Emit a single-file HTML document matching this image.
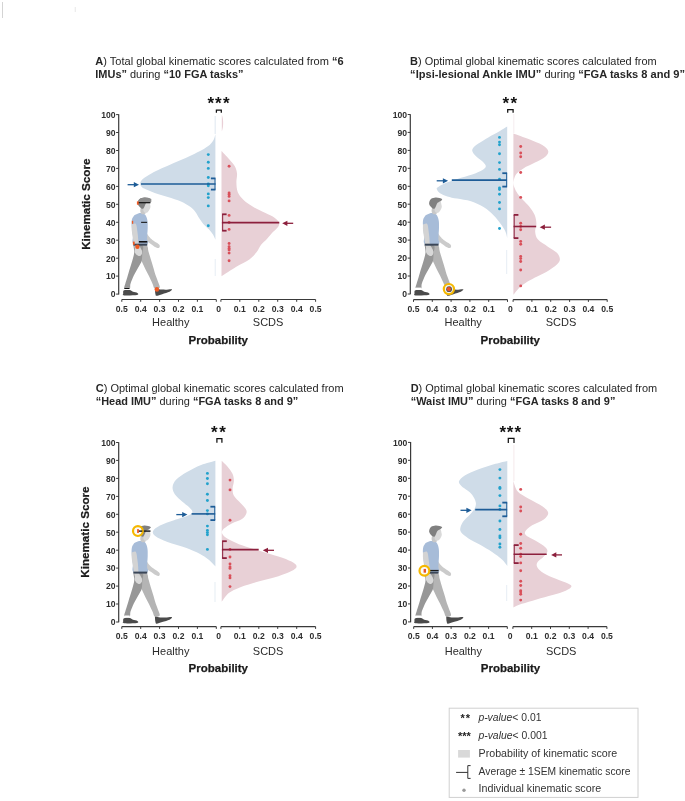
<!DOCTYPE html>
<html><head><meta charset="utf-8"><title>Kinematic scores</title><style>
html,body{margin:0;padding:0;background:#fff;}
body{width:685px;height:801px;overflow:hidden;}
svg{display:block;filter:blur(0.4px);}
text{font-family:"Liberation Sans",sans-serif;}
.tt{font-size:10.9px;fill:#262626;}
.yl{font-size:8.6px;font-weight:bold;fill:#2e2e2e;text-anchor:end;}
.xl{font-size:8.6px;font-weight:bold;fill:#2e2e2e;text-anchor:middle;}
.gl{font-size:11px;fill:#2b2b2b;}
.pl{font-size:11.5px;font-weight:bold;fill:#1a1a1a;stroke:#1a1a1a;stroke-width:0.25px;text-anchor:middle;}
.kl{font-size:11.65px;font-weight:bold;fill:#1a1a1a;stroke:#1a1a1a;stroke-width:0.25px;text-anchor:middle;}
.st{font-size:17px;font-weight:bold;fill:#111;text-anchor:middle;}
.lg{font-size:10.2px;fill:#333;}
.ls{font-size:11px;font-weight:bold;fill:#222;}
</style></head><body>
<svg width="685" height="801" viewBox="0 0 685 801">
<text x="95.3" y="64.6" class="tt" textLength="248.4" lengthAdjust="spacingAndGlyphs"><tspan font-weight="bold">A</tspan>) Total global kinematic scores calculated from <tspan font-weight="bold">“6</tspan></text>
<text x="95.3" y="77.6" class="tt" textLength="148.2" lengthAdjust="spacingAndGlyphs"><tspan font-weight="bold">IMUs”</tspan> during <tspan font-weight="bold">“10 FGA tasks”</tspan></text>
<text x="410.1" y="64.6" class="tt" textLength="246.5" lengthAdjust="spacingAndGlyphs"><tspan font-weight="bold">B</tspan>) Optimal global kinematic scores calculated from</text>
<text x="410.1" y="77.6" class="tt" textLength="274.9" lengthAdjust="spacingAndGlyphs"><tspan font-weight="bold">“Ipsi-lesional Ankle IMU”</tspan> during <tspan font-weight="bold">“FGA tasks 8 and 9”</tspan></text>
<text x="95.7" y="392.0" class="tt" textLength="247.9" lengthAdjust="spacingAndGlyphs"><tspan font-weight="bold">C</tspan>) Optimal global kinematic scores calculated from</text>
<text x="95.7" y="405.0" class="tt" textLength="202.6" lengthAdjust="spacingAndGlyphs"><tspan font-weight="bold">“Head IMU”</tspan> during <tspan font-weight="bold">“FGA tasks 8 and 9”</tspan></text>
<text x="410.7" y="392.0" class="tt" textLength="246.5" lengthAdjust="spacingAndGlyphs"><tspan font-weight="bold">D</tspan>) Optimal global kinematic scores calculated from</text>
<text x="410.7" y="405.0" class="tt" textLength="204.7" lengthAdjust="spacingAndGlyphs"><tspan font-weight="bold">“Waist IMU”</tspan> during <tspan font-weight="bold">“FGA tasks 8 and 9”</tspan></text>
<path d="M215.4,134.3 C215.1,135.2 214.7,137.8 213.8,139.5 C212.9,141.2 211.9,142.9 209.9,144.7 C207.9,146.4 205.1,148.2 202.0,150.0 C198.9,151.8 195.2,153.4 191.5,155.2 C187.8,156.9 183.6,158.8 179.7,160.5 C175.8,162.2 171.8,163.9 167.8,165.7 C163.9,167.4 159.5,169.2 156.0,171.0 C152.5,172.8 149.2,174.7 146.8,176.2 C144.4,177.7 142.7,179.0 141.6,180.2 C140.5,181.4 140.3,182.6 140.2,183.6 C140.1,184.6 140.5,185.4 141.2,186.2 C141.9,187.0 141.9,187.5 144.2,188.6 C146.4,189.7 150.8,191.6 154.7,193.0 C158.6,194.4 163.4,195.5 167.8,196.9 C172.2,198.3 177.3,199.8 181.0,201.5 C184.7,203.2 187.8,205.1 190.2,206.8 C192.6,208.6 193.9,210.0 195.4,212.0 C196.9,214.0 198.1,216.6 199.4,218.6 C200.7,220.6 201.8,222.2 203.3,223.9 C204.8,225.7 207.0,227.3 208.6,229.1 C210.2,230.9 211.9,232.7 213.0,234.5 C214.1,236.3 215.0,238.9 215.4,239.8 L215.4,239.8 L215.4,134.3 Z" fill="#cfdce8"/>
<path d="M221.5,151.0 C222.8,152.3 226.8,156.4 229.0,159.0 C231.2,161.6 233.5,163.9 234.8,166.3 C236.1,168.7 236.7,170.9 237.0,173.6 C237.3,176.3 236.3,179.2 236.4,182.3 C236.5,185.4 236.6,189.3 237.8,192.2 C239.0,195.1 240.9,197.4 243.6,199.9 C246.3,202.4 250.2,205.0 253.8,207.2 C257.4,209.4 262.1,211.3 265.5,213.0 C268.9,214.7 271.9,215.8 274.2,217.4 C276.4,219.0 278.4,220.8 279.0,222.5 C279.6,224.2 278.8,225.8 277.6,227.6 C276.4,229.3 273.8,231.1 272.0,233.0 C270.2,234.9 268.7,237.0 266.9,239.0 C265.1,241.0 262.8,242.6 261.1,244.8 C259.4,247.0 258.6,249.7 256.7,252.1 C254.8,254.5 252.8,257.0 249.4,259.4 C246.0,261.8 241.0,263.9 236.3,266.7 C231.7,269.5 224.0,274.6 221.5,276.2 L221.5,276.2 L221.5,151.0 Z" fill="#e8d0d6"/>
<path d="M507.2,126.6 C505.9,127.4 502.6,129.4 499.5,131.2 C496.4,133.0 491.8,135.3 488.3,137.4 C484.8,139.5 481.0,141.8 478.4,143.6 C475.8,145.4 473.7,147.1 472.8,148.5 C471.9,149.9 472.1,150.9 472.8,152.3 C473.5,153.8 475.4,155.5 477.1,157.2 C478.9,158.8 481.9,160.6 483.3,162.2 C484.8,163.8 486.0,165.2 485.8,166.5 C485.6,167.8 484.4,168.8 482.1,170.2 C479.8,171.5 476.3,173.1 472.2,174.6 C468.1,176.1 461.9,177.4 457.3,178.9 C452.8,180.4 448.2,181.9 444.9,183.3 C441.6,184.8 438.7,186.5 437.4,187.6 C436.1,188.7 436.8,189.1 437.2,190.0 C437.6,190.9 438.3,192.1 440.0,193.2 C441.7,194.3 444.6,195.5 447.4,196.4 C450.2,197.3 453.1,197.8 457.0,198.6 C460.9,199.4 466.5,199.9 471.0,201.3 C475.5,202.8 480.1,205.0 483.9,207.3 C487.6,209.6 490.6,212.4 493.5,215.3 C496.4,218.2 499.5,222.2 501.5,225.0 C503.5,227.8 504.7,229.8 505.6,232.0 C506.6,234.2 506.9,237.0 507.2,238.0 L507.2,238.0 L507.2,126.6 Z" fill="#cfdce8"/>
<path d="M513.4,133.4 C516.0,134.4 524.4,137.3 529.2,139.2 C534.0,141.1 539.1,143.1 542.3,145.0 C545.5,146.9 547.7,149.0 548.2,150.9 C548.7,152.8 547.5,154.8 545.3,156.7 C543.1,158.6 538.6,160.6 535.0,162.6 C531.4,164.6 526.5,166.5 523.4,168.4 C520.2,170.3 517.7,172.0 516.1,174.2 C514.5,176.4 513.9,179.4 513.6,181.5 C513.3,183.6 513.6,185.0 514.2,187.0 C514.9,189.0 516.0,191.3 517.5,193.5 C519.0,195.7 521.0,197.8 523.0,200.0 C525.0,202.2 527.3,204.0 529.2,206.5 C531.1,209.0 533.4,212.0 534.6,214.8 C535.8,217.7 536.3,220.7 536.4,223.6 C536.5,226.5 534.9,229.3 535.2,232.0 C535.5,234.7 535.8,237.1 538.0,239.6 C540.2,242.1 545.1,244.7 548.2,246.9 C551.4,249.1 555.0,250.7 556.9,252.8 C558.8,254.9 559.9,257.4 559.9,259.3 C559.9,261.2 559.1,262.4 556.9,264.5 C554.7,266.6 550.4,269.6 546.7,271.8 C543.1,274.0 538.5,275.7 535.0,277.6 C531.5,279.5 528.2,281.2 525.5,283.0 C522.8,284.8 520.6,286.5 518.6,288.5 C516.6,290.5 514.3,293.8 513.4,294.8 L513.4,294.8 L513.4,133.4 Z" fill="#e8d0d6"/>
<path d="M215.4,460.7 C213.0,461.4 205.9,463.1 201.1,465.0 C196.3,466.9 190.6,469.9 186.5,472.3 C182.4,474.7 178.6,477.2 176.3,479.6 C174.0,482.0 172.8,484.5 172.6,486.9 C172.3,489.3 173.2,491.8 174.8,494.2 C176.4,496.6 179.7,499.3 182.1,501.5 C184.5,503.7 187.7,505.7 189.4,507.4 C191.1,509.1 192.5,510.5 192.4,511.8 C192.3,513.1 191.9,513.9 188.8,515.3 C185.7,516.7 178.8,518.6 174.0,520.3 C169.2,522.0 163.5,523.8 160.0,525.6 C156.5,527.4 153.7,529.4 153.0,531.2 C152.3,533.0 153.2,534.5 155.6,536.3 C158.0,538.1 162.3,540.1 167.5,542.1 C172.7,544.1 181.2,546.0 186.5,548.0 C191.8,550.0 195.9,551.9 199.6,553.8 C203.2,555.7 205.8,557.5 208.4,559.6 C211.0,561.7 214.2,565.3 215.4,566.4 L215.4,566.4 L215.4,460.7 Z" fill="#cfdce8"/>
<path d="M221.7,460.7 C222.6,461.7 225.6,464.3 227.4,466.5 C229.2,468.7 231.4,471.4 232.5,473.8 C233.6,476.2 233.9,478.7 233.9,481.1 C233.9,483.5 232.6,486.0 232.6,488.4 C232.6,490.8 232.6,493.3 233.9,495.7 C235.2,498.1 238.6,500.8 240.5,503.0 C242.4,505.2 244.6,507.1 245.6,508.8 C246.6,510.5 247.0,511.5 246.4,513.2 C245.8,514.9 244.4,517.3 242.0,519.0 C239.6,520.7 234.8,521.8 231.8,523.4 C228.8,525.0 225.7,527.0 224.0,528.6 C222.3,530.2 221.7,531.4 221.9,532.8 C222.1,534.2 223.3,535.6 225.0,537.0 C226.7,538.4 229.2,539.6 232.0,541.0 C234.8,542.4 237.4,543.7 242.0,545.3 C246.6,546.9 253.3,548.8 259.4,550.7 C265.5,552.6 273.0,554.7 278.4,556.5 C283.8,558.3 288.5,560.0 291.5,561.6 C294.5,563.2 296.6,564.8 296.6,566.4 C296.6,568.0 294.5,569.5 291.5,571.1 C288.5,572.7 283.8,574.5 278.4,576.2 C273.0,577.9 265.7,579.5 259.4,581.3 C253.1,583.1 245.5,585.2 240.4,587.2 C235.3,589.2 231.9,590.6 228.8,593.0 C225.7,595.4 222.9,600.3 221.7,601.8 L221.7,601.8 L221.7,460.7 Z" fill="#e8d0d6"/>
<path d="M507.3,460.9 C505.3,461.4 500.4,462.4 495.5,463.8 C490.6,465.2 483.1,467.7 478.0,469.6 C472.9,471.6 468.0,473.6 464.8,475.5 C461.6,477.4 459.6,479.6 459.0,481.3 C458.4,483.1 460.0,484.5 461.4,486.0 C462.8,487.5 465.7,489.0 467.5,490.5 C469.3,492.0 470.9,493.0 472.3,495.0 C473.7,497.0 475.4,500.1 475.8,502.4 C476.2,504.7 475.7,506.5 474.7,508.6 C473.7,510.7 471.6,512.7 469.8,514.8 C468.0,516.9 465.2,518.9 463.6,521.0 C462.1,523.1 460.9,525.3 460.5,527.2 C460.1,529.1 459.8,530.3 461.1,532.2 C462.4,534.1 465.4,536.3 468.5,538.4 C471.6,540.5 475.8,542.3 479.7,544.6 C483.6,546.9 488.4,549.5 492.1,552.0 C495.8,554.5 499.5,557.2 502.0,559.5 C504.5,561.8 506.4,564.9 507.3,566.0 L507.3,566.0 L507.3,460.9 Z" fill="#cfdce8"/>
<path d="M513.4,481.0 C514.1,482.7 514.9,488.2 517.5,491.2 C520.1,494.2 525.1,496.5 529.2,499.0 C533.3,501.5 539.1,504.0 542.3,506.3 C545.5,508.6 548.0,510.6 548.2,512.8 C548.5,515.0 546.5,517.3 543.8,519.4 C541.1,521.5 535.1,523.3 532.1,525.3 C529.1,527.2 526.5,529.4 525.5,531.1 C524.5,532.8 524.5,533.8 526.3,535.5 C528.1,537.2 533.3,539.3 536.5,541.3 C539.7,543.2 543.5,545.5 545.3,547.2 C547.1,548.9 547.6,549.9 547.4,551.5 C547.1,553.1 545.4,554.9 543.8,556.6 C542.2,558.4 538.7,560.4 537.6,562.0 C536.5,563.6 536.4,564.9 537.0,566.5 C537.6,568.1 538.9,569.9 541.5,571.7 C544.1,573.5 548.6,575.7 552.6,577.5 C556.6,579.3 562.6,581.1 565.7,582.6 C568.9,584.1 571.5,584.9 571.5,586.3 C571.5,587.6 568.9,589.2 565.7,590.7 C562.6,592.2 557.5,593.5 552.6,595.0 C547.7,596.5 541.6,597.9 536.5,599.4 C531.4,600.9 525.8,602.5 521.9,603.8 C518.0,605.1 514.8,606.8 513.4,607.4 L513.4,607.4 L513.4,481.0 Z" fill="#e8d0d6"/>
<path d="M221.8,114.8 C223.6,119 223.6,127 221.8,131.5 Z" fill="#e9cfd6"/>
<rect x="214.6" y="116" width="1.2" height="18" fill="#e4ecf3"/>
<rect x="214.7" y="259" width="1.0" height="17" fill="#e6edf4"/>
<rect x="513.4" y="445" width="1.0" height="36" fill="#f5e9ec"/>
<rect x="513.4" y="114" width="0.9" height="19" fill="#f4eaed"/>
<rect x="214.5" y="582" width="1.0" height="20" fill="#e6edf4"/>
<rect x="506.2" y="585" width="1.0" height="16" fill="#e6edf4"/>
<rect x="506.2" y="250" width="1.0" height="24" fill="#e6edf4"/>
<g transform="translate(-291.3,0.0)"><path d="M437.6,232.5 C438.1,233.2 439.5,235.6 440.5,236.8 C441.5,238.0 442.3,238.9 443.7,239.9 C445.1,240.9 447.4,242.2 448.6,243.1 C449.8,244.0 450.7,244.7 451.0,245.5 C451.3,246.3 450.9,247.7 450.2,248.0 C449.5,248.3 448.4,247.9 447.0,247.2 C445.6,246.5 443.5,244.9 442.1,243.9 C440.7,242.9 439.4,242.1 438.6,241.0 C437.8,239.9 437.4,238.9 437.2,237.5 C437.0,236.1 437.5,233.3 437.6,232.5Z" fill="#cbcbcb"/><path d="M430.8,245.6 C432.0,245.6 436.6,244.7 438.1,245.6 C439.6,246.5 439.0,248.9 439.7,251.2 C440.4,253.5 441.3,256.6 442.1,259.3 C442.9,262.0 443.8,264.7 444.6,267.4 C445.4,270.1 446.2,273.2 447.0,275.6 C447.8,278.0 448.7,280.0 449.4,282.0 C450.1,284.0 451.6,286.6 451.0,287.7 C450.4,288.8 447.2,289.3 446.0,288.6 C444.8,287.9 444.8,285.9 443.8,283.7 C442.8,281.5 441.2,278.1 440.0,275.6 C438.8,273.2 437.7,271.3 436.6,269.0 C435.5,266.7 434.2,264.1 433.2,261.8 C432.2,259.5 431.2,258.0 430.8,255.3 C430.4,252.6 430.8,247.2 430.8,245.6Z" fill="#b4b4b4"/><path d="M424.7,245.6 C426.2,245.6 432.5,244.4 434.0,245.6 C435.5,246.8 433.7,250.7 433.6,253.0 C433.5,255.3 433.4,257.7 433.2,259.3 C433.0,260.9 433.1,261.0 432.4,262.6 C431.6,264.2 429.9,266.8 428.7,269.0 C427.5,271.2 426.2,273.2 425.1,275.6 C424.0,278.1 422.5,281.6 421.8,283.7 C421.1,285.8 422.0,287.8 421.0,288.5 C420.0,289.2 416.5,288.9 415.8,288.1 C415.1,287.3 416.1,285.5 416.6,283.7 C417.1,281.9 417.9,279.6 418.6,277.2 C419.3,274.8 420.2,271.7 421.0,269.0 C421.8,266.3 422.8,263.7 423.5,261.0 C424.2,258.3 425.3,255.4 425.5,252.8 C425.7,250.2 424.8,246.8 424.7,245.6Z" fill="#979797"/><path d="M414.5,291.0 C414.8,290.9 415.1,290.2 416.2,290.1 C417.3,290.0 419.6,289.8 421.0,290.1 C422.4,290.4 423.0,291.3 424.3,291.8 C425.6,292.3 428.0,292.5 428.7,293.0 C429.4,293.5 430.5,294.6 428.3,295.0 C426.1,295.4 417.7,295.7 415.4,295.4 C413.1,295.1 414.6,294.1 414.5,293.4 C414.4,292.7 414.5,291.4 414.5,291.0Z" fill="#4b4b4b"/><path d="M446.2,288.5 C446.9,288.6 448.4,289.1 450.2,289.3 C451.9,289.5 454.5,289.7 456.7,289.7 C458.9,289.7 462.5,288.9 463.2,289.3 C463.9,289.7 462.4,291.0 460.8,291.8 C459.2,292.6 455.7,293.5 453.5,294.2 C451.3,294.9 448.9,295.9 447.8,295.8 C446.7,295.7 446.9,294.6 446.6,293.4 C446.3,292.2 446.3,289.3 446.2,288.5Z" fill="#4b4b4b"/><path d="M425.4,215.4 C426.1,215.1 428.1,213.8 429.5,213.4 C430.9,213.0 432.2,212.9 433.5,213.2 C434.8,213.5 436.1,214.1 437.0,215.4 C437.9,216.7 438.5,218.9 438.8,221.0 C439.1,223.1 439.0,225.8 439.0,228.0 C439.0,230.2 438.7,232.2 438.6,234.0 C438.5,235.8 438.4,237.3 438.4,239.0 C438.4,240.7 440.8,243.2 438.6,244.0 C436.4,244.8 427.4,245.3 425.0,244.0 C422.6,242.7 424.5,239.0 424.2,236.0 C423.9,233.0 423.2,228.8 423.0,226.0 C422.8,223.2 422.8,221.3 423.2,219.5 C423.6,217.7 425.0,216.1 425.4,215.4Z" fill="#a7bcd8"/><path d="M423.0,224.5 C423.7,224.4 426.3,222.9 427.2,224.0 C428.1,225.1 428.2,228.7 428.6,231.0 C429.0,233.3 429.2,235.8 429.4,238.0 C429.6,240.2 429.5,242.8 430.0,244.5 C430.5,246.2 431.7,247.2 432.2,248.5 C432.7,249.8 433.3,251.4 433.2,252.5 C433.1,253.6 432.4,254.7 431.6,255.0 C430.8,255.3 429.4,255.4 428.6,254.6 C427.8,253.8 427.1,251.7 426.6,250.0 C426.1,248.3 425.8,246.7 425.4,244.5 C425.0,242.3 424.4,239.4 424.0,237.0 C423.6,234.6 423.2,232.1 423.0,230.0 C422.8,227.9 423.0,225.4 423.0,224.5Z" fill="#d3d3d3"/><path d="M426.7,247.2 C427.6,247.6 431.3,248.5 432.4,249.6 C433.5,250.7 433.5,252.6 433.2,253.7 C432.9,254.8 431.8,256.0 430.8,256.1 C429.9,256.2 428.3,255.3 427.5,254.5 C426.7,253.7 426.0,252.4 425.9,251.2 C425.8,250.0 426.6,247.9 426.7,247.2Z" fill="#d8d8d8"/><path d="M432.2,207.5 C432.9,207.7 435.4,207.5 436.2,208.5 C437.0,209.5 437.3,212.6 436.8,213.5 C436.3,214.4 433.9,214.4 433.0,214.0 C432.1,213.6 431.7,212.1 431.6,211.0 C431.5,209.9 432.1,208.1 432.2,207.5Z" fill="#c8c8c8"/><path d="M436.6,202.4 C437.2,202.3 439.6,201.2 440.4,201.6 C441.2,201.9 441.2,203.6 441.4,204.5 C441.6,205.4 441.9,206.0 441.8,206.8 C441.7,207.7 441.3,208.7 440.8,209.6 C440.3,210.5 439.7,211.7 439.0,212.2 C438.3,212.7 437.1,213.1 436.4,212.8 C435.7,212.5 434.8,211.7 434.6,210.6 C434.4,209.5 434.9,207.9 435.2,206.5 C435.5,205.1 436.4,203.1 436.6,202.4Z" fill="#d9d9d9"/><path d="M429.3,201.8 C429.6,201.3 430.2,199.5 431.2,198.8 C432.2,198.1 434.1,197.6 435.5,197.5 C436.9,197.4 438.4,197.7 439.5,198.0 C440.6,198.3 442.1,198.8 442.2,199.4 C442.3,200.0 440.8,201.0 440.0,201.6 C439.2,202.2 438.1,202.2 437.4,203.0 C436.7,203.8 436.3,205.6 435.8,206.5 C435.3,207.4 435.1,208.3 434.6,208.6 C434.1,208.9 433.3,208.8 432.6,208.4 C431.9,208.1 431.2,207.2 430.6,206.5 C430.0,205.8 429.4,205.0 429.2,204.2 C429.0,203.4 429.3,202.2 429.3,201.8Z" fill="#808080"/><rect x="424.6" y="243.7" width="14.0" height="2.0" fill="#3a4658"/><rect x="416.0" y="287.6" width="5.0" height="2.0" fill="#ffffff"/><path d="M429.4,200.6 C431.5,197.4 437.5,196.6 442.6,199.0 L442.6,202.0 L429.4,202.0 Z" fill="#8c8c8c"/><rect x="429.4" y="202.0" width="12.4" height="1.3" fill="#1a1a1a"/><rect x="428.2" y="201.2" width="1.8" height="3.6" rx="0.6" fill="#ee5a24"/><rect x="432.4" y="221.8" width="6.0" height="1.1" fill="#1a1a1a"/><rect x="423.2" y="220.8" width="1.3" height="3.0" fill="#ee5a24"/><rect x="430.2" y="241.0" width="8.4" height="1.6" fill="#111"/><rect x="424.2" y="241.6" width="1.8" height="3.2" fill="#ee5a24"/><circle cx="428.7" cy="246.8" r="2.2" fill="#ee5a24"/><rect x="415.6" y="287.8" width="5.2" height="1.2" fill="#111"/><circle cx="448.2" cy="289.4" r="2.3" fill="#ee5a24"/></g>
<g transform="translate(0.0,0.0)"><path d="M437.6,232.5 C438.1,233.2 439.5,235.6 440.5,236.8 C441.5,238.0 442.3,238.9 443.7,239.9 C445.1,240.9 447.4,242.2 448.6,243.1 C449.8,244.0 450.7,244.7 451.0,245.5 C451.3,246.3 450.9,247.7 450.2,248.0 C449.5,248.3 448.4,247.9 447.0,247.2 C445.6,246.5 443.5,244.9 442.1,243.9 C440.7,242.9 439.4,242.1 438.6,241.0 C437.8,239.9 437.4,238.9 437.2,237.5 C437.0,236.1 437.5,233.3 437.6,232.5Z" fill="#cbcbcb"/><path d="M430.8,245.6 C432.0,245.6 436.6,244.7 438.1,245.6 C439.6,246.5 439.0,248.9 439.7,251.2 C440.4,253.5 441.3,256.6 442.1,259.3 C442.9,262.0 443.8,264.7 444.6,267.4 C445.4,270.1 446.2,273.2 447.0,275.6 C447.8,278.0 448.7,280.0 449.4,282.0 C450.1,284.0 451.6,286.6 451.0,287.7 C450.4,288.8 447.2,289.3 446.0,288.6 C444.8,287.9 444.8,285.9 443.8,283.7 C442.8,281.5 441.2,278.1 440.0,275.6 C438.8,273.2 437.7,271.3 436.6,269.0 C435.5,266.7 434.2,264.1 433.2,261.8 C432.2,259.5 431.2,258.0 430.8,255.3 C430.4,252.6 430.8,247.2 430.8,245.6Z" fill="#b4b4b4"/><path d="M424.7,245.6 C426.2,245.6 432.5,244.4 434.0,245.6 C435.5,246.8 433.7,250.7 433.6,253.0 C433.5,255.3 433.4,257.7 433.2,259.3 C433.0,260.9 433.1,261.0 432.4,262.6 C431.6,264.2 429.9,266.8 428.7,269.0 C427.5,271.2 426.2,273.2 425.1,275.6 C424.0,278.1 422.5,281.6 421.8,283.7 C421.1,285.8 422.0,287.8 421.0,288.5 C420.0,289.2 416.5,288.9 415.8,288.1 C415.1,287.3 416.1,285.5 416.6,283.7 C417.1,281.9 417.9,279.6 418.6,277.2 C419.3,274.8 420.2,271.7 421.0,269.0 C421.8,266.3 422.8,263.7 423.5,261.0 C424.2,258.3 425.3,255.4 425.5,252.8 C425.7,250.2 424.8,246.8 424.7,245.6Z" fill="#979797"/><path d="M414.5,291.0 C414.8,290.9 415.1,290.2 416.2,290.1 C417.3,290.0 419.6,289.8 421.0,290.1 C422.4,290.4 423.0,291.3 424.3,291.8 C425.6,292.3 428.0,292.5 428.7,293.0 C429.4,293.5 430.5,294.6 428.3,295.0 C426.1,295.4 417.7,295.7 415.4,295.4 C413.1,295.1 414.6,294.1 414.5,293.4 C414.4,292.7 414.5,291.4 414.5,291.0Z" fill="#4b4b4b"/><path d="M446.2,288.5 C446.9,288.6 448.4,289.1 450.2,289.3 C451.9,289.5 454.5,289.7 456.7,289.7 C458.9,289.7 462.5,288.9 463.2,289.3 C463.9,289.7 462.4,291.0 460.8,291.8 C459.2,292.6 455.7,293.5 453.5,294.2 C451.3,294.9 448.9,295.9 447.8,295.8 C446.7,295.7 446.9,294.6 446.6,293.4 C446.3,292.2 446.3,289.3 446.2,288.5Z" fill="#4b4b4b"/><path d="M425.4,215.4 C426.1,215.1 428.1,213.8 429.5,213.4 C430.9,213.0 432.2,212.9 433.5,213.2 C434.8,213.5 436.1,214.1 437.0,215.4 C437.9,216.7 438.5,218.9 438.8,221.0 C439.1,223.1 439.0,225.8 439.0,228.0 C439.0,230.2 438.7,232.2 438.6,234.0 C438.5,235.8 438.4,237.3 438.4,239.0 C438.4,240.7 440.8,243.2 438.6,244.0 C436.4,244.8 427.4,245.3 425.0,244.0 C422.6,242.7 424.5,239.0 424.2,236.0 C423.9,233.0 423.2,228.8 423.0,226.0 C422.8,223.2 422.8,221.3 423.2,219.5 C423.6,217.7 425.0,216.1 425.4,215.4Z" fill="#a7bcd8"/><path d="M423.0,224.5 C423.7,224.4 426.3,222.9 427.2,224.0 C428.1,225.1 428.2,228.7 428.6,231.0 C429.0,233.3 429.2,235.8 429.4,238.0 C429.6,240.2 429.5,242.8 430.0,244.5 C430.5,246.2 431.7,247.2 432.2,248.5 C432.7,249.8 433.3,251.4 433.2,252.5 C433.1,253.6 432.4,254.7 431.6,255.0 C430.8,255.3 429.4,255.4 428.6,254.6 C427.8,253.8 427.1,251.7 426.6,250.0 C426.1,248.3 425.8,246.7 425.4,244.5 C425.0,242.3 424.4,239.4 424.0,237.0 C423.6,234.6 423.2,232.1 423.0,230.0 C422.8,227.9 423.0,225.4 423.0,224.5Z" fill="#d3d3d3"/><path d="M426.7,247.2 C427.6,247.6 431.3,248.5 432.4,249.6 C433.5,250.7 433.5,252.6 433.2,253.7 C432.9,254.8 431.8,256.0 430.8,256.1 C429.9,256.2 428.3,255.3 427.5,254.5 C426.7,253.7 426.0,252.4 425.9,251.2 C425.8,250.0 426.6,247.9 426.7,247.2Z" fill="#d8d8d8"/><path d="M432.2,207.5 C432.9,207.7 435.4,207.5 436.2,208.5 C437.0,209.5 437.3,212.6 436.8,213.5 C436.3,214.4 433.9,214.4 433.0,214.0 C432.1,213.6 431.7,212.1 431.6,211.0 C431.5,209.9 432.1,208.1 432.2,207.5Z" fill="#c8c8c8"/><path d="M436.6,202.4 C437.2,202.3 439.6,201.2 440.4,201.6 C441.2,201.9 441.2,203.6 441.4,204.5 C441.6,205.4 441.9,206.0 441.8,206.8 C441.7,207.7 441.3,208.7 440.8,209.6 C440.3,210.5 439.7,211.7 439.0,212.2 C438.3,212.7 437.1,213.1 436.4,212.8 C435.7,212.5 434.8,211.7 434.6,210.6 C434.4,209.5 434.9,207.9 435.2,206.5 C435.5,205.1 436.4,203.1 436.6,202.4Z" fill="#d9d9d9"/><path d="M429.3,201.8 C429.6,201.3 430.2,199.5 431.2,198.8 C432.2,198.1 434.1,197.6 435.5,197.5 C436.9,197.4 438.4,197.7 439.5,198.0 C440.6,198.3 442.1,198.8 442.2,199.4 C442.3,200.0 440.8,201.0 440.0,201.6 C439.2,202.2 438.1,202.2 437.4,203.0 C436.7,203.8 436.3,205.6 435.8,206.5 C435.3,207.4 435.1,208.3 434.6,208.6 C434.1,208.9 433.3,208.8 432.6,208.4 C431.9,208.1 431.2,207.2 430.6,206.5 C430.0,205.8 429.4,205.0 429.2,204.2 C429.0,203.4 429.3,202.2 429.3,201.8Z" fill="#808080"/><rect x="424.6" y="243.7" width="14.0" height="2.0" fill="#3a4658"/><rect x="416.0" y="287.6" width="5.0" height="2.0" fill="#ffffff"/><circle cx="448.9" cy="289.1" r="5.1" fill="#f4f4f4" stroke="#f5b800" stroke-width="2.2"/><circle cx="449.1" cy="289.2" r="2.9" fill="#555"/><circle cx="448.9" cy="289.1" r="2.1" fill="#e8552a"/></g>
<g transform="translate(-291.3,327.9)"><path d="M437.6,232.5 C438.1,233.2 439.5,235.6 440.5,236.8 C441.5,238.0 442.3,238.9 443.7,239.9 C445.1,240.9 447.4,242.2 448.6,243.1 C449.8,244.0 450.7,244.7 451.0,245.5 C451.3,246.3 450.9,247.7 450.2,248.0 C449.5,248.3 448.4,247.9 447.0,247.2 C445.6,246.5 443.5,244.9 442.1,243.9 C440.7,242.9 439.4,242.1 438.6,241.0 C437.8,239.9 437.4,238.9 437.2,237.5 C437.0,236.1 437.5,233.3 437.6,232.5Z" fill="#cbcbcb"/><path d="M430.8,245.6 C432.0,245.6 436.6,244.7 438.1,245.6 C439.6,246.5 439.0,248.9 439.7,251.2 C440.4,253.5 441.3,256.6 442.1,259.3 C442.9,262.0 443.8,264.7 444.6,267.4 C445.4,270.1 446.2,273.2 447.0,275.6 C447.8,278.0 448.7,280.0 449.4,282.0 C450.1,284.0 451.6,286.6 451.0,287.7 C450.4,288.8 447.2,289.3 446.0,288.6 C444.8,287.9 444.8,285.9 443.8,283.7 C442.8,281.5 441.2,278.1 440.0,275.6 C438.8,273.2 437.7,271.3 436.6,269.0 C435.5,266.7 434.2,264.1 433.2,261.8 C432.2,259.5 431.2,258.0 430.8,255.3 C430.4,252.6 430.8,247.2 430.8,245.6Z" fill="#b4b4b4"/><path d="M424.7,245.6 C426.2,245.6 432.5,244.4 434.0,245.6 C435.5,246.8 433.7,250.7 433.6,253.0 C433.5,255.3 433.4,257.7 433.2,259.3 C433.0,260.9 433.1,261.0 432.4,262.6 C431.6,264.2 429.9,266.8 428.7,269.0 C427.5,271.2 426.2,273.2 425.1,275.6 C424.0,278.1 422.5,281.6 421.8,283.7 C421.1,285.8 422.0,287.8 421.0,288.5 C420.0,289.2 416.5,288.9 415.8,288.1 C415.1,287.3 416.1,285.5 416.6,283.7 C417.1,281.9 417.9,279.6 418.6,277.2 C419.3,274.8 420.2,271.7 421.0,269.0 C421.8,266.3 422.8,263.7 423.5,261.0 C424.2,258.3 425.3,255.4 425.5,252.8 C425.7,250.2 424.8,246.8 424.7,245.6Z" fill="#979797"/><path d="M414.5,291.0 C414.8,290.9 415.1,290.2 416.2,290.1 C417.3,290.0 419.6,289.8 421.0,290.1 C422.4,290.4 423.0,291.3 424.3,291.8 C425.6,292.3 428.0,292.5 428.7,293.0 C429.4,293.5 430.5,294.6 428.3,295.0 C426.1,295.4 417.7,295.7 415.4,295.4 C413.1,295.1 414.6,294.1 414.5,293.4 C414.4,292.7 414.5,291.4 414.5,291.0Z" fill="#4b4b4b"/><path d="M446.2,288.5 C446.9,288.6 448.4,289.1 450.2,289.3 C451.9,289.5 454.5,289.7 456.7,289.7 C458.9,289.7 462.5,288.9 463.2,289.3 C463.9,289.7 462.4,291.0 460.8,291.8 C459.2,292.6 455.7,293.5 453.5,294.2 C451.3,294.9 448.9,295.9 447.8,295.8 C446.7,295.7 446.9,294.6 446.6,293.4 C446.3,292.2 446.3,289.3 446.2,288.5Z" fill="#4b4b4b"/><path d="M425.4,215.4 C426.1,215.1 428.1,213.8 429.5,213.4 C430.9,213.0 432.2,212.9 433.5,213.2 C434.8,213.5 436.1,214.1 437.0,215.4 C437.9,216.7 438.5,218.9 438.8,221.0 C439.1,223.1 439.0,225.8 439.0,228.0 C439.0,230.2 438.7,232.2 438.6,234.0 C438.5,235.8 438.4,237.3 438.4,239.0 C438.4,240.7 440.8,243.2 438.6,244.0 C436.4,244.8 427.4,245.3 425.0,244.0 C422.6,242.7 424.5,239.0 424.2,236.0 C423.9,233.0 423.2,228.8 423.0,226.0 C422.8,223.2 422.8,221.3 423.2,219.5 C423.6,217.7 425.0,216.1 425.4,215.4Z" fill="#a7bcd8"/><path d="M423.0,224.5 C423.7,224.4 426.3,222.9 427.2,224.0 C428.1,225.1 428.2,228.7 428.6,231.0 C429.0,233.3 429.2,235.8 429.4,238.0 C429.6,240.2 429.5,242.8 430.0,244.5 C430.5,246.2 431.7,247.2 432.2,248.5 C432.7,249.8 433.3,251.4 433.2,252.5 C433.1,253.6 432.4,254.7 431.6,255.0 C430.8,255.3 429.4,255.4 428.6,254.6 C427.8,253.8 427.1,251.7 426.6,250.0 C426.1,248.3 425.8,246.7 425.4,244.5 C425.0,242.3 424.4,239.4 424.0,237.0 C423.6,234.6 423.2,232.1 423.0,230.0 C422.8,227.9 423.0,225.4 423.0,224.5Z" fill="#d3d3d3"/><path d="M426.7,247.2 C427.6,247.6 431.3,248.5 432.4,249.6 C433.5,250.7 433.5,252.6 433.2,253.7 C432.9,254.8 431.8,256.0 430.8,256.1 C429.9,256.2 428.3,255.3 427.5,254.5 C426.7,253.7 426.0,252.4 425.9,251.2 C425.8,250.0 426.6,247.9 426.7,247.2Z" fill="#d8d8d8"/><path d="M432.2,207.5 C432.9,207.7 435.4,207.5 436.2,208.5 C437.0,209.5 437.3,212.6 436.8,213.5 C436.3,214.4 433.9,214.4 433.0,214.0 C432.1,213.6 431.7,212.1 431.6,211.0 C431.5,209.9 432.1,208.1 432.2,207.5Z" fill="#c8c8c8"/><path d="M436.6,202.4 C437.2,202.3 439.6,201.2 440.4,201.6 C441.2,201.9 441.2,203.6 441.4,204.5 C441.6,205.4 441.9,206.0 441.8,206.8 C441.7,207.7 441.3,208.7 440.8,209.6 C440.3,210.5 439.7,211.7 439.0,212.2 C438.3,212.7 437.1,213.1 436.4,212.8 C435.7,212.5 434.8,211.7 434.6,210.6 C434.4,209.5 434.9,207.9 435.2,206.5 C435.5,205.1 436.4,203.1 436.6,202.4Z" fill="#d9d9d9"/><path d="M429.3,201.8 C429.6,201.3 430.2,199.5 431.2,198.8 C432.2,198.1 434.1,197.6 435.5,197.5 C436.9,197.4 438.4,197.7 439.5,198.0 C440.6,198.3 442.1,198.8 442.2,199.4 C442.3,200.0 440.8,201.0 440.0,201.6 C439.2,202.2 438.1,202.2 437.4,203.0 C436.7,203.8 436.3,205.6 435.8,206.5 C435.3,207.4 435.1,208.3 434.6,208.6 C434.1,208.9 433.3,208.8 432.6,208.4 C431.9,208.1 431.2,207.2 430.6,206.5 C430.0,205.8 429.4,205.0 429.2,204.2 C429.0,203.4 429.3,202.2 429.3,201.8Z" fill="#808080"/><rect x="424.6" y="243.7" width="14.0" height="2.0" fill="#3a4658"/><rect x="416.0" y="287.6" width="5.0" height="2.0" fill="#ffffff"/><rect x="429.2" y="202.5" width="12.6" height="1.4" fill="#1a1a1a"/><circle cx="429.2" cy="203.2" r="4.9" fill="#fafafa" stroke="#f5b800" stroke-width="2.2"/><rect x="429.6" y="202.5" width="4.0" height="1.4" fill="#1a1a1a"/><rect x="428.4" y="201.2" width="1.8" height="3.8" rx="0.5" fill="#ee5a24"/></g>
<g transform="translate(0.0,327.9)"><path d="M437.6,232.5 C438.1,233.2 439.5,235.6 440.5,236.8 C441.5,238.0 442.3,238.9 443.7,239.9 C445.1,240.9 447.4,242.2 448.6,243.1 C449.8,244.0 450.7,244.7 451.0,245.5 C451.3,246.3 450.9,247.7 450.2,248.0 C449.5,248.3 448.4,247.9 447.0,247.2 C445.6,246.5 443.5,244.9 442.1,243.9 C440.7,242.9 439.4,242.1 438.6,241.0 C437.8,239.9 437.4,238.9 437.2,237.5 C437.0,236.1 437.5,233.3 437.6,232.5Z" fill="#cbcbcb"/><path d="M430.8,245.6 C432.0,245.6 436.6,244.7 438.1,245.6 C439.6,246.5 439.0,248.9 439.7,251.2 C440.4,253.5 441.3,256.6 442.1,259.3 C442.9,262.0 443.8,264.7 444.6,267.4 C445.4,270.1 446.2,273.2 447.0,275.6 C447.8,278.0 448.7,280.0 449.4,282.0 C450.1,284.0 451.6,286.6 451.0,287.7 C450.4,288.8 447.2,289.3 446.0,288.6 C444.8,287.9 444.8,285.9 443.8,283.7 C442.8,281.5 441.2,278.1 440.0,275.6 C438.8,273.2 437.7,271.3 436.6,269.0 C435.5,266.7 434.2,264.1 433.2,261.8 C432.2,259.5 431.2,258.0 430.8,255.3 C430.4,252.6 430.8,247.2 430.8,245.6Z" fill="#b4b4b4"/><path d="M424.7,245.6 C426.2,245.6 432.5,244.4 434.0,245.6 C435.5,246.8 433.7,250.7 433.6,253.0 C433.5,255.3 433.4,257.7 433.2,259.3 C433.0,260.9 433.1,261.0 432.4,262.6 C431.6,264.2 429.9,266.8 428.7,269.0 C427.5,271.2 426.2,273.2 425.1,275.6 C424.0,278.1 422.5,281.6 421.8,283.7 C421.1,285.8 422.0,287.8 421.0,288.5 C420.0,289.2 416.5,288.9 415.8,288.1 C415.1,287.3 416.1,285.5 416.6,283.7 C417.1,281.9 417.9,279.6 418.6,277.2 C419.3,274.8 420.2,271.7 421.0,269.0 C421.8,266.3 422.8,263.7 423.5,261.0 C424.2,258.3 425.3,255.4 425.5,252.8 C425.7,250.2 424.8,246.8 424.7,245.6Z" fill="#979797"/><path d="M414.5,291.0 C414.8,290.9 415.1,290.2 416.2,290.1 C417.3,290.0 419.6,289.8 421.0,290.1 C422.4,290.4 423.0,291.3 424.3,291.8 C425.6,292.3 428.0,292.5 428.7,293.0 C429.4,293.5 430.5,294.6 428.3,295.0 C426.1,295.4 417.7,295.7 415.4,295.4 C413.1,295.1 414.6,294.1 414.5,293.4 C414.4,292.7 414.5,291.4 414.5,291.0Z" fill="#4b4b4b"/><path d="M446.2,288.5 C446.9,288.6 448.4,289.1 450.2,289.3 C451.9,289.5 454.5,289.7 456.7,289.7 C458.9,289.7 462.5,288.9 463.2,289.3 C463.9,289.7 462.4,291.0 460.8,291.8 C459.2,292.6 455.7,293.5 453.5,294.2 C451.3,294.9 448.9,295.9 447.8,295.8 C446.7,295.7 446.9,294.6 446.6,293.4 C446.3,292.2 446.3,289.3 446.2,288.5Z" fill="#4b4b4b"/><path d="M425.4,215.4 C426.1,215.1 428.1,213.8 429.5,213.4 C430.9,213.0 432.2,212.9 433.5,213.2 C434.8,213.5 436.1,214.1 437.0,215.4 C437.9,216.7 438.5,218.9 438.8,221.0 C439.1,223.1 439.0,225.8 439.0,228.0 C439.0,230.2 438.7,232.2 438.6,234.0 C438.5,235.8 438.4,237.3 438.4,239.0 C438.4,240.7 440.8,243.2 438.6,244.0 C436.4,244.8 427.4,245.3 425.0,244.0 C422.6,242.7 424.5,239.0 424.2,236.0 C423.9,233.0 423.2,228.8 423.0,226.0 C422.8,223.2 422.8,221.3 423.2,219.5 C423.6,217.7 425.0,216.1 425.4,215.4Z" fill="#a7bcd8"/><path d="M423.0,224.5 C423.7,224.4 426.3,222.9 427.2,224.0 C428.1,225.1 428.2,228.7 428.6,231.0 C429.0,233.3 429.2,235.8 429.4,238.0 C429.6,240.2 429.5,242.8 430.0,244.5 C430.5,246.2 431.7,247.2 432.2,248.5 C432.7,249.8 433.3,251.4 433.2,252.5 C433.1,253.6 432.4,254.7 431.6,255.0 C430.8,255.3 429.4,255.4 428.6,254.6 C427.8,253.8 427.1,251.7 426.6,250.0 C426.1,248.3 425.8,246.7 425.4,244.5 C425.0,242.3 424.4,239.4 424.0,237.0 C423.6,234.6 423.2,232.1 423.0,230.0 C422.8,227.9 423.0,225.4 423.0,224.5Z" fill="#d3d3d3"/><path d="M426.7,247.2 C427.6,247.6 431.3,248.5 432.4,249.6 C433.5,250.7 433.5,252.6 433.2,253.7 C432.9,254.8 431.8,256.0 430.8,256.1 C429.9,256.2 428.3,255.3 427.5,254.5 C426.7,253.7 426.0,252.4 425.9,251.2 C425.8,250.0 426.6,247.9 426.7,247.2Z" fill="#d8d8d8"/><path d="M432.2,207.5 C432.9,207.7 435.4,207.5 436.2,208.5 C437.0,209.5 437.3,212.6 436.8,213.5 C436.3,214.4 433.9,214.4 433.0,214.0 C432.1,213.6 431.7,212.1 431.6,211.0 C431.5,209.9 432.1,208.1 432.2,207.5Z" fill="#c8c8c8"/><path d="M436.6,202.4 C437.2,202.3 439.6,201.2 440.4,201.6 C441.2,201.9 441.2,203.6 441.4,204.5 C441.6,205.4 441.9,206.0 441.8,206.8 C441.7,207.7 441.3,208.7 440.8,209.6 C440.3,210.5 439.7,211.7 439.0,212.2 C438.3,212.7 437.1,213.1 436.4,212.8 C435.7,212.5 434.8,211.7 434.6,210.6 C434.4,209.5 434.9,207.9 435.2,206.5 C435.5,205.1 436.4,203.1 436.6,202.4Z" fill="#d9d9d9"/><path d="M429.3,201.8 C429.6,201.3 430.2,199.5 431.2,198.8 C432.2,198.1 434.1,197.6 435.5,197.5 C436.9,197.4 438.4,197.7 439.5,198.0 C440.6,198.3 442.1,198.8 442.2,199.4 C442.3,200.0 440.8,201.0 440.0,201.6 C439.2,202.2 438.1,202.2 437.4,203.0 C436.7,203.8 436.3,205.6 435.8,206.5 C435.3,207.4 435.1,208.3 434.6,208.6 C434.1,208.9 433.3,208.8 432.6,208.4 C431.9,208.1 431.2,207.2 430.6,206.5 C430.0,205.8 429.4,205.0 429.2,204.2 C429.0,203.4 429.3,202.2 429.3,201.8Z" fill="#808080"/><rect x="424.6" y="243.7" width="14.0" height="2.0" fill="#3a4658"/><rect x="416.0" y="287.6" width="5.0" height="2.0" fill="#ffffff"/><rect x="429.0" y="242.0" width="9.6" height="1.2" fill="#1a1a1a"/><circle cx="424.4" cy="242.9" r="4.9" fill="#fafafa" stroke="#f5b800" stroke-width="2.2"/><rect x="423.6" y="241.0" width="2.4" height="3.8" fill="#e8552a"/></g>
<circle cx="208.3" cy="154.6" r="1.45" fill="#22a2cc"/><circle cx="208.3" cy="162.2" r="1.45" fill="#22a2cc"/><circle cx="208.3" cy="168.4" r="1.45" fill="#22a2cc"/><circle cx="208.3" cy="177.5" r="1.45" fill="#22a2cc"/><circle cx="208.3" cy="183.9" r="1.45" fill="#22a2cc"/><circle cx="208.3" cy="185.7" r="1.45" fill="#22a2cc"/><circle cx="208.3" cy="193.9" r="1.45" fill="#22a2cc"/><circle cx="208.3" cy="197.6" r="1.45" fill="#22a2cc"/><circle cx="208.3" cy="205.9" r="1.45" fill="#22a2cc"/><circle cx="208.3" cy="225.8" r="1.45" fill="#22a2cc"/>
<circle cx="229.1" cy="166.2" r="1.45" fill="#d9505a"/><circle cx="229.1" cy="193.0" r="1.45" fill="#d9505a"/><circle cx="229.1" cy="194.6" r="1.45" fill="#d9505a"/><circle cx="229.1" cy="196.4" r="1.45" fill="#d9505a"/><circle cx="229.1" cy="200.9" r="1.45" fill="#d9505a"/><circle cx="229.1" cy="215.4" r="1.45" fill="#d9505a"/><circle cx="229.1" cy="222.5" r="1.45" fill="#d9505a"/><circle cx="229.1" cy="229.4" r="1.45" fill="#d9505a"/><circle cx="229.1" cy="243.5" r="1.45" fill="#d9505a"/><circle cx="229.1" cy="246.8" r="1.45" fill="#d9505a"/><circle cx="229.1" cy="248.6" r="1.45" fill="#d9505a"/><circle cx="229.1" cy="250.0" r="1.45" fill="#d9505a"/><circle cx="229.1" cy="253.1" r="1.45" fill="#d9505a"/><circle cx="229.1" cy="260.7" r="1.45" fill="#d9505a"/>
<circle cx="499.5" cy="137.4" r="1.45" fill="#22a2cc"/><circle cx="499.5" cy="142.1" r="1.45" fill="#22a2cc"/><circle cx="499.5" cy="144.8" r="1.45" fill="#22a2cc"/><circle cx="499.5" cy="153.7" r="1.45" fill="#22a2cc"/><circle cx="499.5" cy="162.6" r="1.45" fill="#22a2cc"/><circle cx="499.5" cy="169.4" r="1.45" fill="#22a2cc"/><circle cx="499.5" cy="179.2" r="1.45" fill="#22a2cc"/><circle cx="499.5" cy="188.0" r="1.45" fill="#22a2cc"/><circle cx="499.5" cy="189.5" r="1.45" fill="#22a2cc"/><circle cx="499.5" cy="194.2" r="1.45" fill="#22a2cc"/><circle cx="499.5" cy="202.5" r="1.45" fill="#22a2cc"/><circle cx="499.5" cy="208.9" r="1.45" fill="#22a2cc"/><circle cx="499.5" cy="228.5" r="1.45" fill="#22a2cc"/>
<circle cx="520.7" cy="146.5" r="1.45" fill="#d9505a"/><circle cx="520.7" cy="153.0" r="1.45" fill="#d9505a"/><circle cx="520.7" cy="156.7" r="1.45" fill="#d9505a"/><circle cx="520.7" cy="172.5" r="1.45" fill="#d9505a"/><circle cx="520.7" cy="197.4" r="1.45" fill="#d9505a"/><circle cx="520.7" cy="223.3" r="1.45" fill="#d9505a"/><circle cx="520.7" cy="226.5" r="1.45" fill="#d9505a"/><circle cx="520.7" cy="229.7" r="1.45" fill="#d9505a"/><circle cx="520.7" cy="241.4" r="1.45" fill="#d9505a"/><circle cx="520.7" cy="244.3" r="1.45" fill="#d9505a"/><circle cx="520.7" cy="256.4" r="1.45" fill="#d9505a"/><circle cx="520.7" cy="258.6" r="1.45" fill="#d9505a"/><circle cx="520.7" cy="261.5" r="1.45" fill="#d9505a"/><circle cx="520.7" cy="270.0" r="1.45" fill="#d9505a"/><circle cx="520.7" cy="285.9" r="1.45" fill="#d9505a"/>
<circle cx="207.4" cy="473.4" r="1.45" fill="#22a2cc"/><circle cx="207.4" cy="478.5" r="1.45" fill="#22a2cc"/><circle cx="207.4" cy="483.7" r="1.45" fill="#22a2cc"/><circle cx="207.4" cy="494.2" r="1.45" fill="#22a2cc"/><circle cx="207.4" cy="500.5" r="1.45" fill="#22a2cc"/><circle cx="207.4" cy="510.6" r="1.45" fill="#22a2cc"/><circle cx="207.4" cy="513.9" r="1.45" fill="#22a2cc"/><circle cx="207.4" cy="526.1" r="1.45" fill="#22a2cc"/><circle cx="207.4" cy="530.4" r="1.45" fill="#22a2cc"/><circle cx="207.4" cy="532.6" r="1.45" fill="#22a2cc"/><circle cx="207.4" cy="534.8" r="1.45" fill="#22a2cc"/><circle cx="207.4" cy="549.4" r="1.45" fill="#22a2cc"/>
<circle cx="230.0" cy="480.1" r="1.45" fill="#d9505a"/><circle cx="230.0" cy="489.9" r="1.45" fill="#d9505a"/><circle cx="230.0" cy="520.2" r="1.45" fill="#d9505a"/><circle cx="230.0" cy="549.4" r="1.45" fill="#d9505a"/><circle cx="230.0" cy="557.0" r="1.45" fill="#d9505a"/><circle cx="230.0" cy="564.0" r="1.45" fill="#d9505a"/><circle cx="230.0" cy="566.9" r="1.45" fill="#d9505a"/><circle cx="230.0" cy="568.4" r="1.45" fill="#d9505a"/><circle cx="230.0" cy="575.7" r="1.45" fill="#d9505a"/><circle cx="230.0" cy="577.9" r="1.45" fill="#d9505a"/><circle cx="230.0" cy="586.6" r="1.45" fill="#d9505a"/>
<circle cx="499.9" cy="469.6" r="1.45" fill="#22a2cc"/><circle cx="499.9" cy="478.1" r="1.45" fill="#22a2cc"/><circle cx="499.9" cy="487.4" r="1.45" fill="#22a2cc"/><circle cx="499.9" cy="488.6" r="1.45" fill="#22a2cc"/><circle cx="499.9" cy="495.6" r="1.45" fill="#22a2cc"/><circle cx="499.9" cy="505.9" r="1.45" fill="#22a2cc"/><circle cx="499.9" cy="509.4" r="1.45" fill="#22a2cc"/><circle cx="499.9" cy="521.0" r="1.45" fill="#22a2cc"/><circle cx="499.9" cy="529.5" r="1.45" fill="#22a2cc"/><circle cx="499.9" cy="535.9" r="1.45" fill="#22a2cc"/><circle cx="499.9" cy="537.8" r="1.45" fill="#22a2cc"/><circle cx="499.9" cy="544.0" r="1.45" fill="#22a2cc"/><circle cx="499.9" cy="547.3" r="1.45" fill="#22a2cc"/>
<circle cx="520.7" cy="489.4" r="1.45" fill="#d9505a"/><circle cx="520.7" cy="507.0" r="1.45" fill="#d9505a"/><circle cx="520.7" cy="511.0" r="1.45" fill="#d9505a"/><circle cx="520.7" cy="534.3" r="1.45" fill="#d9505a"/><circle cx="520.7" cy="543.5" r="1.45" fill="#d9505a"/><circle cx="520.7" cy="548.2" r="1.45" fill="#d9505a"/><circle cx="520.7" cy="554.2" r="1.45" fill="#d9505a"/><circle cx="520.7" cy="556.6" r="1.45" fill="#d9505a"/><circle cx="520.7" cy="562.9" r="1.45" fill="#d9505a"/><circle cx="520.7" cy="570.8" r="1.45" fill="#d9505a"/><circle cx="520.7" cy="581.2" r="1.45" fill="#d9505a"/><circle cx="520.7" cy="585.5" r="1.45" fill="#d9505a"/><circle cx="520.7" cy="590.7" r="1.45" fill="#d9505a"/><circle cx="520.7" cy="592.1" r="1.45" fill="#d9505a"/><circle cx="520.7" cy="594.3" r="1.45" fill="#d9505a"/><circle cx="520.7" cy="600.1" r="1.45" fill="#d9505a"/>
<line x1="141.0" y1="184.0" x2="215.6" y2="184.0" stroke="#1d5c97" stroke-width="1.6"/>
<line x1="127.6" y1="184.7" x2="134.6" y2="184.7" stroke="#1d5c97" stroke-width="1.3"/><path d="M139.0,184.7 L133.8,182.1 L133.8,187.3 Z" fill="#1d5c97"/>
<line x1="215.0" y1="178.4" x2="215.0" y2="189.6" stroke="#1d5c97" stroke-width="1.2" opacity="0.85"/><line x1="210.9" y1="178.4" x2="215.5" y2="178.4" stroke="#1d5c97" stroke-width="1.8"/><line x1="210.9" y1="189.6" x2="215.5" y2="189.6" stroke="#1d5c97" stroke-width="1.8"/>
<line x1="221.9" y1="222.6" x2="279.3" y2="222.6" stroke="#8c1f3c" stroke-width="1.6"/>
<line x1="293.2" y1="223.3" x2="286.6" y2="223.3" stroke="#8c1f3c" stroke-width="1.3"/><path d="M282.2,223.3 L287.4,220.7 L287.4,225.9 Z" fill="#8c1f3c"/>
<line x1="222.6" y1="214.3" x2="222.6" y2="230.7" stroke="#8c1f3c" stroke-width="1.2" opacity="0.85"/><line x1="226.6" y1="214.3" x2="222.1" y2="214.3" stroke="#8c1f3c" stroke-width="1.8"/><line x1="226.6" y1="230.7" x2="222.1" y2="230.7" stroke="#8c1f3c" stroke-width="1.8"/>
<line x1="451.8" y1="180.1" x2="507.0" y2="180.1" stroke="#1d5c97" stroke-width="1.6"/>
<line x1="436.7" y1="180.8" x2="443.7" y2="180.8" stroke="#1d5c97" stroke-width="1.3"/><path d="M448.1,180.8 L442.9,178.2 L442.9,183.4 Z" fill="#1d5c97"/>
<line x1="506.6" y1="173.2" x2="506.6" y2="186.6" stroke="#1d5c97" stroke-width="1.2" opacity="0.85"/><line x1="502.3" y1="173.2" x2="507.1" y2="173.2" stroke="#1d5c97" stroke-width="1.8"/><line x1="502.3" y1="186.6" x2="507.1" y2="186.6" stroke="#1d5c97" stroke-width="1.8"/>
<line x1="513.6" y1="226.5" x2="536.2" y2="226.5" stroke="#8c1f3c" stroke-width="1.6"/>
<line x1="551.1" y1="227.2" x2="544.1" y2="227.2" stroke="#8c1f3c" stroke-width="1.3"/><path d="M539.7,227.2 L544.9,224.6 L544.9,229.8 Z" fill="#8c1f3c"/>
<line x1="514.2" y1="214.9" x2="514.2" y2="238.1" stroke="#8c1f3c" stroke-width="1.2" opacity="0.85"/><line x1="518.4" y1="214.9" x2="513.7" y2="214.9" stroke="#8c1f3c" stroke-width="1.8"/><line x1="518.4" y1="238.1" x2="513.7" y2="238.1" stroke="#8c1f3c" stroke-width="1.8"/>
<line x1="191.6" y1="513.9" x2="215.2" y2="513.9" stroke="#1d5c97" stroke-width="1.6"/>
<line x1="176.3" y1="514.6" x2="183.0" y2="514.6" stroke="#1d5c97" stroke-width="1.3"/><path d="M187.4,514.6 L182.2,512.0 L182.2,517.2 Z" fill="#1d5c97"/>
<line x1="214.7" y1="506.7" x2="214.7" y2="520.1" stroke="#1d5c97" stroke-width="1.2" opacity="0.85"/><line x1="210.4" y1="506.7" x2="215.2" y2="506.7" stroke="#1d5c97" stroke-width="1.8"/><line x1="210.4" y1="520.1" x2="215.2" y2="520.1" stroke="#1d5c97" stroke-width="1.8"/>
<line x1="221.9" y1="549.6" x2="258.7" y2="549.6" stroke="#8c1f3c" stroke-width="1.6"/>
<line x1="274.0" y1="550.3" x2="267.2" y2="550.3" stroke="#8c1f3c" stroke-width="1.3"/><path d="M262.8,550.3 L268.0,547.7 L268.0,552.9 Z" fill="#8c1f3c"/>
<line x1="222.6" y1="541.2" x2="222.6" y2="558.1" stroke="#8c1f3c" stroke-width="1.2" opacity="0.85"/><line x1="226.8" y1="541.2" x2="222.1" y2="541.2" stroke="#8c1f3c" stroke-width="1.8"/><line x1="226.8" y1="558.1" x2="222.1" y2="558.1" stroke="#8c1f3c" stroke-width="1.8"/>
<line x1="475.2" y1="509.6" x2="507.1" y2="509.6" stroke="#1d5c97" stroke-width="1.6"/>
<line x1="460.5" y1="510.3" x2="467.2" y2="510.3" stroke="#1d5c97" stroke-width="1.3"/><path d="M471.6,510.3 L466.4,507.7 L466.4,512.9 Z" fill="#1d5c97"/>
<line x1="506.7" y1="502.6" x2="506.7" y2="516.3" stroke="#1d5c97" stroke-width="1.2" opacity="0.85"/><line x1="502.3" y1="502.6" x2="507.2" y2="502.6" stroke="#1d5c97" stroke-width="1.8"/><line x1="502.3" y1="516.3" x2="507.2" y2="516.3" stroke="#1d5c97" stroke-width="1.8"/>
<line x1="513.6" y1="554.2" x2="546.7" y2="554.2" stroke="#8c1f3c" stroke-width="1.6"/>
<line x1="562.0" y1="554.9" x2="555.5" y2="554.9" stroke="#8c1f3c" stroke-width="1.3"/><path d="M551.1,554.9 L556.3,552.3 L556.3,557.5 Z" fill="#8c1f3c"/>
<line x1="514.3" y1="545.1" x2="514.3" y2="563.1" stroke="#8c1f3c" stroke-width="1.2" opacity="0.85"/><line x1="518.7" y1="545.1" x2="513.8" y2="545.1" stroke="#8c1f3c" stroke-width="1.8"/><line x1="518.7" y1="563.1" x2="513.8" y2="563.1" stroke="#8c1f3c" stroke-width="1.8"/>
<text x="210.7" y="109.3" class="st">*</text><text x="218.4" y="109.3" class="st">*</text><text x="226.3" y="109.3" class="st">*</text>
<path d="M216.4,112.8 L216.4,110.1 L221.3,110.1 L221.3,112.8" fill="none" stroke="#111" stroke-width="1.25"/>
<text x="505.8" y="108.8" class="st">*</text><text x="513.8" y="108.8" class="st">*</text>
<path d="M507.7,112.8 L507.7,109.5 L513.1,109.5 L513.1,112.8" fill="none" stroke="#111" stroke-width="1.25"/>
<text x="214.3" y="437.5" class="st">*</text><text x="222.5" y="437.5" class="st">*</text>
<path d="M216.9,442.7 L216.9,438.5 L221.9,438.5 L221.9,442.7" fill="none" stroke="#111" stroke-width="1.25"/>
<text x="502.8" y="438.3" class="st">*</text><text x="510.0" y="438.3" class="st">*</text><text x="517.7" y="438.3" class="st">*</text>
<path d="M508.3,443.1 L508.3,438.3 L514.0,438.3 L514.0,443.1" fill="none" stroke="#111" stroke-width="1.25"/>
<line x1="118.7" y1="114.3" x2="118.7" y2="294.4" stroke="#3a3a3a" stroke-width="1.2"/>
<line x1="116.1" y1="114.6" x2="118.7" y2="114.6" stroke="#3a3a3a" stroke-width="1"/>
<text x="115.5" y="117.9" class="yl">100</text>
<line x1="116.1" y1="132.5" x2="118.7" y2="132.5" stroke="#3a3a3a" stroke-width="1"/>
<text x="115.5" y="135.8" class="yl">90</text>
<line x1="116.1" y1="150.5" x2="118.7" y2="150.5" stroke="#3a3a3a" stroke-width="1"/>
<text x="115.5" y="153.8" class="yl">80</text>
<line x1="116.1" y1="168.4" x2="118.7" y2="168.4" stroke="#3a3a3a" stroke-width="1"/>
<text x="115.5" y="171.8" class="yl">70</text>
<line x1="116.1" y1="186.4" x2="118.7" y2="186.4" stroke="#3a3a3a" stroke-width="1"/>
<text x="115.5" y="189.7" class="yl">60</text>
<line x1="116.1" y1="204.3" x2="118.7" y2="204.3" stroke="#3a3a3a" stroke-width="1"/>
<text x="115.5" y="207.7" class="yl">50</text>
<line x1="116.1" y1="222.3" x2="118.7" y2="222.3" stroke="#3a3a3a" stroke-width="1"/>
<text x="115.5" y="225.6" class="yl">40</text>
<line x1="116.1" y1="240.2" x2="118.7" y2="240.2" stroke="#3a3a3a" stroke-width="1"/>
<text x="115.5" y="243.6" class="yl">30</text>
<line x1="116.1" y1="258.2" x2="118.7" y2="258.2" stroke="#3a3a3a" stroke-width="1"/>
<text x="115.5" y="261.5" class="yl">20</text>
<line x1="116.1" y1="276.1" x2="118.7" y2="276.1" stroke="#3a3a3a" stroke-width="1"/>
<text x="115.5" y="279.4" class="yl">10</text>
<line x1="116.1" y1="294.1" x2="118.7" y2="294.1" stroke="#3a3a3a" stroke-width="1"/>
<text x="115.5" y="297.4" class="yl">0</text>
<line x1="121.8" y1="299.5" x2="216.3" y2="299.5" stroke="#3a3a3a" stroke-width="1.2"/>
<line x1="121.8" y1="299.5" x2="121.8" y2="301.8" stroke="#3a3a3a" stroke-width="1"/>
<line x1="140.7" y1="299.5" x2="140.7" y2="301.8" stroke="#3a3a3a" stroke-width="1"/>
<line x1="159.6" y1="299.5" x2="159.6" y2="301.8" stroke="#3a3a3a" stroke-width="1"/>
<line x1="178.5" y1="299.5" x2="178.5" y2="301.8" stroke="#3a3a3a" stroke-width="1"/>
<line x1="197.4" y1="299.5" x2="197.4" y2="301.8" stroke="#3a3a3a" stroke-width="1"/>
<line x1="216.3" y1="299.5" x2="216.3" y2="301.8" stroke="#3a3a3a" stroke-width="1"/>
<text x="121.8" y="311.5" class="xl">0.5</text>
<text x="140.7" y="311.5" class="xl">0.4</text>
<text x="159.6" y="311.5" class="xl">0.3</text>
<text x="178.5" y="311.5" class="xl">0.2</text>
<text x="197.4" y="311.5" class="xl">0.1</text>
<line x1="220.9" y1="299.5" x2="315.6" y2="299.5" stroke="#3a3a3a" stroke-width="1.2"/>
<line x1="220.9" y1="299.5" x2="220.9" y2="301.8" stroke="#3a3a3a" stroke-width="1"/>
<line x1="239.8" y1="299.5" x2="239.8" y2="301.8" stroke="#3a3a3a" stroke-width="1"/>
<line x1="258.8" y1="299.5" x2="258.8" y2="301.8" stroke="#3a3a3a" stroke-width="1"/>
<line x1="277.7" y1="299.5" x2="277.7" y2="301.8" stroke="#3a3a3a" stroke-width="1"/>
<line x1="296.7" y1="299.5" x2="296.7" y2="301.8" stroke="#3a3a3a" stroke-width="1"/>
<line x1="315.6" y1="299.5" x2="315.6" y2="301.8" stroke="#3a3a3a" stroke-width="1"/>
<text x="239.8" y="311.5" class="xl">0.1</text>
<text x="258.8" y="311.5" class="xl">0.2</text>
<text x="277.7" y="311.5" class="xl">0.3</text>
<text x="296.7" y="311.5" class="xl">0.4</text>
<text x="315.6" y="311.5" class="xl">0.5</text>
<text x="218.6" y="311.5" class="xl">0</text>
<line x1="410.3" y1="114.2" x2="410.3" y2="294.3" stroke="#3a3a3a" stroke-width="1.2"/>
<line x1="407.7" y1="114.5" x2="410.3" y2="114.5" stroke="#3a3a3a" stroke-width="1"/>
<text x="407.1" y="117.8" class="yl">100</text>
<line x1="407.7" y1="132.4" x2="410.3" y2="132.4" stroke="#3a3a3a" stroke-width="1"/>
<text x="407.1" y="135.8" class="yl">90</text>
<line x1="407.7" y1="150.4" x2="410.3" y2="150.4" stroke="#3a3a3a" stroke-width="1"/>
<text x="407.1" y="153.7" class="yl">80</text>
<line x1="407.7" y1="168.3" x2="410.3" y2="168.3" stroke="#3a3a3a" stroke-width="1"/>
<text x="407.1" y="171.7" class="yl">70</text>
<line x1="407.7" y1="186.3" x2="410.3" y2="186.3" stroke="#3a3a3a" stroke-width="1"/>
<text x="407.1" y="189.6" class="yl">60</text>
<line x1="407.7" y1="204.2" x2="410.3" y2="204.2" stroke="#3a3a3a" stroke-width="1"/>
<text x="407.1" y="207.6" class="yl">50</text>
<line x1="407.7" y1="222.2" x2="410.3" y2="222.2" stroke="#3a3a3a" stroke-width="1"/>
<text x="407.1" y="225.5" class="yl">40</text>
<line x1="407.7" y1="240.1" x2="410.3" y2="240.1" stroke="#3a3a3a" stroke-width="1"/>
<text x="407.1" y="243.4" class="yl">30</text>
<line x1="407.7" y1="258.1" x2="410.3" y2="258.1" stroke="#3a3a3a" stroke-width="1"/>
<text x="407.1" y="261.4" class="yl">20</text>
<line x1="407.7" y1="276.0" x2="410.3" y2="276.0" stroke="#3a3a3a" stroke-width="1"/>
<text x="407.1" y="279.3" class="yl">10</text>
<line x1="407.7" y1="294.0" x2="410.3" y2="294.0" stroke="#3a3a3a" stroke-width="1"/>
<text x="407.1" y="297.3" class="yl">0</text>
<line x1="413.5" y1="299.6" x2="507.5" y2="299.6" stroke="#3a3a3a" stroke-width="1.2"/>
<line x1="413.5" y1="299.6" x2="413.5" y2="301.9" stroke="#3a3a3a" stroke-width="1"/>
<line x1="432.3" y1="299.6" x2="432.3" y2="301.9" stroke="#3a3a3a" stroke-width="1"/>
<line x1="451.1" y1="299.6" x2="451.1" y2="301.9" stroke="#3a3a3a" stroke-width="1"/>
<line x1="469.9" y1="299.6" x2="469.9" y2="301.9" stroke="#3a3a3a" stroke-width="1"/>
<line x1="488.7" y1="299.6" x2="488.7" y2="301.9" stroke="#3a3a3a" stroke-width="1"/>
<line x1="507.5" y1="299.6" x2="507.5" y2="301.9" stroke="#3a3a3a" stroke-width="1"/>
<text x="413.5" y="311.6" class="xl">0.5</text>
<text x="432.3" y="311.6" class="xl">0.4</text>
<text x="451.1" y="311.6" class="xl">0.3</text>
<text x="469.9" y="311.6" class="xl">0.2</text>
<text x="488.7" y="311.6" class="xl">0.1</text>
<line x1="513.1" y1="299.6" x2="607.2" y2="299.6" stroke="#3a3a3a" stroke-width="1.2"/>
<line x1="513.1" y1="299.6" x2="513.1" y2="301.9" stroke="#3a3a3a" stroke-width="1"/>
<line x1="531.9" y1="299.6" x2="531.9" y2="301.9" stroke="#3a3a3a" stroke-width="1"/>
<line x1="550.7" y1="299.6" x2="550.7" y2="301.9" stroke="#3a3a3a" stroke-width="1"/>
<line x1="569.6" y1="299.6" x2="569.6" y2="301.9" stroke="#3a3a3a" stroke-width="1"/>
<line x1="588.4" y1="299.6" x2="588.4" y2="301.9" stroke="#3a3a3a" stroke-width="1"/>
<line x1="607.2" y1="299.6" x2="607.2" y2="301.9" stroke="#3a3a3a" stroke-width="1"/>
<text x="531.9" y="311.6" class="xl">0.1</text>
<text x="550.7" y="311.6" class="xl">0.2</text>
<text x="569.6" y="311.6" class="xl">0.3</text>
<text x="588.4" y="311.6" class="xl">0.4</text>
<text x="607.2" y="311.6" class="xl">0.5</text>
<text x="510.3" y="311.6" class="xl">0</text>
<line x1="118.7" y1="442.2" x2="118.7" y2="622.3" stroke="#3a3a3a" stroke-width="1.2"/>
<line x1="116.1" y1="442.5" x2="118.7" y2="442.5" stroke="#3a3a3a" stroke-width="1"/>
<text x="115.5" y="445.8" class="yl">100</text>
<line x1="116.1" y1="460.4" x2="118.7" y2="460.4" stroke="#3a3a3a" stroke-width="1"/>
<text x="115.5" y="463.8" class="yl">90</text>
<line x1="116.1" y1="478.4" x2="118.7" y2="478.4" stroke="#3a3a3a" stroke-width="1"/>
<text x="115.5" y="481.7" class="yl">80</text>
<line x1="116.1" y1="496.4" x2="118.7" y2="496.4" stroke="#3a3a3a" stroke-width="1"/>
<text x="115.5" y="499.7" class="yl">70</text>
<line x1="116.1" y1="514.3" x2="118.7" y2="514.3" stroke="#3a3a3a" stroke-width="1"/>
<text x="115.5" y="517.6" class="yl">60</text>
<line x1="116.1" y1="532.2" x2="118.7" y2="532.2" stroke="#3a3a3a" stroke-width="1"/>
<text x="115.5" y="535.5" class="yl">50</text>
<line x1="116.1" y1="550.2" x2="118.7" y2="550.2" stroke="#3a3a3a" stroke-width="1"/>
<text x="115.5" y="553.5" class="yl">40</text>
<line x1="116.1" y1="568.1" x2="118.7" y2="568.1" stroke="#3a3a3a" stroke-width="1"/>
<text x="115.5" y="571.4" class="yl">30</text>
<line x1="116.1" y1="586.1" x2="118.7" y2="586.1" stroke="#3a3a3a" stroke-width="1"/>
<text x="115.5" y="589.4" class="yl">20</text>
<line x1="116.1" y1="604.0" x2="118.7" y2="604.0" stroke="#3a3a3a" stroke-width="1"/>
<text x="115.5" y="607.3" class="yl">10</text>
<line x1="116.1" y1="622.0" x2="118.7" y2="622.0" stroke="#3a3a3a" stroke-width="1"/>
<text x="115.5" y="625.3" class="yl">0</text>
<line x1="121.8" y1="626.6" x2="216.3" y2="626.6" stroke="#3a3a3a" stroke-width="1.2"/>
<line x1="121.8" y1="626.6" x2="121.8" y2="628.9" stroke="#3a3a3a" stroke-width="1"/>
<line x1="140.7" y1="626.6" x2="140.7" y2="628.9" stroke="#3a3a3a" stroke-width="1"/>
<line x1="159.6" y1="626.6" x2="159.6" y2="628.9" stroke="#3a3a3a" stroke-width="1"/>
<line x1="178.5" y1="626.6" x2="178.5" y2="628.9" stroke="#3a3a3a" stroke-width="1"/>
<line x1="197.4" y1="626.6" x2="197.4" y2="628.9" stroke="#3a3a3a" stroke-width="1"/>
<line x1="216.3" y1="626.6" x2="216.3" y2="628.9" stroke="#3a3a3a" stroke-width="1"/>
<text x="121.8" y="638.6" class="xl">0.5</text>
<text x="140.7" y="638.6" class="xl">0.4</text>
<text x="159.6" y="638.6" class="xl">0.3</text>
<text x="178.5" y="638.6" class="xl">0.2</text>
<text x="197.4" y="638.6" class="xl">0.1</text>
<line x1="220.9" y1="626.6" x2="315.6" y2="626.6" stroke="#3a3a3a" stroke-width="1.2"/>
<line x1="220.9" y1="626.6" x2="220.9" y2="628.9" stroke="#3a3a3a" stroke-width="1"/>
<line x1="239.8" y1="626.6" x2="239.8" y2="628.9" stroke="#3a3a3a" stroke-width="1"/>
<line x1="258.8" y1="626.6" x2="258.8" y2="628.9" stroke="#3a3a3a" stroke-width="1"/>
<line x1="277.7" y1="626.6" x2="277.7" y2="628.9" stroke="#3a3a3a" stroke-width="1"/>
<line x1="296.7" y1="626.6" x2="296.7" y2="628.9" stroke="#3a3a3a" stroke-width="1"/>
<line x1="315.6" y1="626.6" x2="315.6" y2="628.9" stroke="#3a3a3a" stroke-width="1"/>
<text x="239.8" y="638.6" class="xl">0.1</text>
<text x="258.8" y="638.6" class="xl">0.2</text>
<text x="277.7" y="638.6" class="xl">0.3</text>
<text x="296.7" y="638.6" class="xl">0.4</text>
<text x="315.6" y="638.6" class="xl">0.5</text>
<text x="218.6" y="638.6" class="xl">0</text>
<line x1="410.6" y1="442.1" x2="410.6" y2="622.2" stroke="#3a3a3a" stroke-width="1.2"/>
<line x1="408.0" y1="442.4" x2="410.6" y2="442.4" stroke="#3a3a3a" stroke-width="1"/>
<text x="407.4" y="445.7" class="yl">100</text>
<line x1="408.0" y1="460.3" x2="410.6" y2="460.3" stroke="#3a3a3a" stroke-width="1"/>
<text x="407.4" y="463.6" class="yl">90</text>
<line x1="408.0" y1="478.3" x2="410.6" y2="478.3" stroke="#3a3a3a" stroke-width="1"/>
<text x="407.4" y="481.6" class="yl">80</text>
<line x1="408.0" y1="496.2" x2="410.6" y2="496.2" stroke="#3a3a3a" stroke-width="1"/>
<text x="407.4" y="499.6" class="yl">70</text>
<line x1="408.0" y1="514.2" x2="410.6" y2="514.2" stroke="#3a3a3a" stroke-width="1"/>
<text x="407.4" y="517.5" class="yl">60</text>
<line x1="408.0" y1="532.1" x2="410.6" y2="532.1" stroke="#3a3a3a" stroke-width="1"/>
<text x="407.4" y="535.4" class="yl">50</text>
<line x1="408.0" y1="550.1" x2="410.6" y2="550.1" stroke="#3a3a3a" stroke-width="1"/>
<text x="407.4" y="553.4" class="yl">40</text>
<line x1="408.0" y1="568.0" x2="410.6" y2="568.0" stroke="#3a3a3a" stroke-width="1"/>
<text x="407.4" y="571.3" class="yl">30</text>
<line x1="408.0" y1="586.0" x2="410.6" y2="586.0" stroke="#3a3a3a" stroke-width="1"/>
<text x="407.4" y="589.3" class="yl">20</text>
<line x1="408.0" y1="603.9" x2="410.6" y2="603.9" stroke="#3a3a3a" stroke-width="1"/>
<text x="407.4" y="607.2" class="yl">10</text>
<line x1="408.0" y1="621.9" x2="410.6" y2="621.9" stroke="#3a3a3a" stroke-width="1"/>
<text x="407.4" y="625.2" class="yl">0</text>
<line x1="413.7" y1="626.6" x2="507.3" y2="626.6" stroke="#3a3a3a" stroke-width="1.2"/>
<line x1="413.7" y1="626.6" x2="413.7" y2="628.9" stroke="#3a3a3a" stroke-width="1"/>
<line x1="432.4" y1="626.6" x2="432.4" y2="628.9" stroke="#3a3a3a" stroke-width="1"/>
<line x1="451.1" y1="626.6" x2="451.1" y2="628.9" stroke="#3a3a3a" stroke-width="1"/>
<line x1="469.9" y1="626.6" x2="469.9" y2="628.9" stroke="#3a3a3a" stroke-width="1"/>
<line x1="488.6" y1="626.6" x2="488.6" y2="628.9" stroke="#3a3a3a" stroke-width="1"/>
<line x1="507.3" y1="626.6" x2="507.3" y2="628.9" stroke="#3a3a3a" stroke-width="1"/>
<text x="413.7" y="638.6" class="xl">0.5</text>
<text x="432.4" y="638.6" class="xl">0.4</text>
<text x="451.1" y="638.6" class="xl">0.3</text>
<text x="469.9" y="638.6" class="xl">0.2</text>
<text x="488.6" y="638.6" class="xl">0.1</text>
<line x1="512.9" y1="626.6" x2="606.9" y2="626.6" stroke="#3a3a3a" stroke-width="1.2"/>
<line x1="512.9" y1="626.6" x2="512.9" y2="628.9" stroke="#3a3a3a" stroke-width="1"/>
<line x1="531.7" y1="626.6" x2="531.7" y2="628.9" stroke="#3a3a3a" stroke-width="1"/>
<line x1="550.5" y1="626.6" x2="550.5" y2="628.9" stroke="#3a3a3a" stroke-width="1"/>
<line x1="569.3" y1="626.6" x2="569.3" y2="628.9" stroke="#3a3a3a" stroke-width="1"/>
<line x1="588.1" y1="626.6" x2="588.1" y2="628.9" stroke="#3a3a3a" stroke-width="1"/>
<line x1="606.9" y1="626.6" x2="606.9" y2="628.9" stroke="#3a3a3a" stroke-width="1"/>
<text x="531.7" y="638.6" class="xl">0.1</text>
<text x="550.5" y="638.6" class="xl">0.2</text>
<text x="569.3" y="638.6" class="xl">0.3</text>
<text x="588.1" y="638.6" class="xl">0.4</text>
<text x="606.9" y="638.6" class="xl">0.5</text>
<text x="510.1" y="638.6" class="xl">0</text>
<text x="152.1" y="326.4" class="gl">Healthy</text>
<text x="252.8" y="326.4" class="gl">SCDS</text>
<text x="218.3" y="343.9" class="pl">Probability</text>
<text x="444.5" y="326.4" class="gl">Healthy</text>
<text x="545.7" y="326.4" class="gl">SCDS</text>
<text x="510.3" y="343.9" class="pl">Probability</text>
<text x="152.1" y="654.9" class="gl">Healthy</text>
<text x="252.8" y="654.9" class="gl">SCDS</text>
<text x="218.3" y="672.4" class="pl">Probability</text>
<text x="444.7" y="654.9" class="gl">Healthy</text>
<text x="545.9" y="654.9" class="gl">SCDS</text>
<text x="510.5" y="672.4" class="pl">Probability</text>
<text transform="translate(89.5,204.2) rotate(-90)" class="kl">Kinematic Score</text>
<text transform="translate(88.9,532.1) rotate(-90)" class="kl">Kinematic Score</text>
<rect x="449.2" y="708.2" width="188.8" height="89.2" fill="none" stroke="#d0d0d0" stroke-width="1"/>
<text x="460.6" y="722.1" class="ls" letter-spacing="1">**</text>
<text x="478.4" y="721.4" class="lg" textLength="63" lengthAdjust="spacingAndGlyphs"><tspan font-style="italic">p-value</tspan>&lt; 0.01</text>
<text x="458.0" y="739.6" class="ls">***</text>
<text x="478.4" y="738.8" class="lg" textLength="69.2" lengthAdjust="spacingAndGlyphs"><tspan font-style="italic">p-value</tspan>&lt; 0.001</text>
<rect x="458.1" y="750.0" width="11.8" height="7.6" fill="#d9d9d9"/>
<text x="478.6" y="757.2" class="lg" textLength="138.7" lengthAdjust="spacingAndGlyphs">Probability of kinematic score</text>
<path d="M456.1,772.4 L467.8,772.4 M470.6,765.6 L467.8,765.6 L467.8,778.4 L470.6,778.4" fill="none" stroke="#333" stroke-width="1"/>
<text x="478.6" y="774.7" class="lg" textLength="151.8" lengthAdjust="spacingAndGlyphs">Average ± 1SEM kinematic score</text>
<circle cx="464.0" cy="790.3" r="1.7" fill="#9a9a9a"/>
<text x="478.6" y="792.2" class="lg" textLength="122.6" lengthAdjust="spacingAndGlyphs">Individual kinematic score</text>
<rect x="2.0" y="2" width="1" height="16" fill="#d4d4d4"/>
<rect x="74.8" y="7" width="0.8" height="5" fill="#e2e2e2"/>
</svg>
</body></html>
